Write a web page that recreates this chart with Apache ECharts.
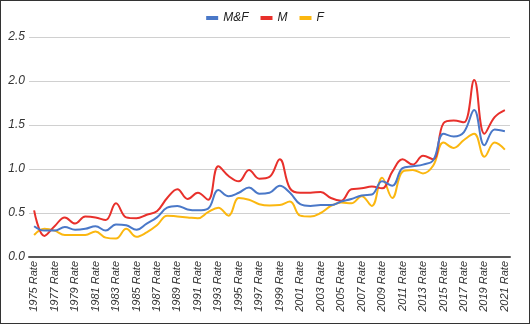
<!DOCTYPE html>
<html>
<head>
<meta charset="utf-8">
<script src="https://cdn.jsdelivr.net/npm/echarts@6/dist/echarts.min.js"></script>
<style>
html,body{margin:0;padding:0;background:#fff;}
#c{width:530px;height:324px;box-sizing:border-box;border:1px solid #333;}
</style>
</head>
<body>
<div id="c"></div>
<script>
var years = [];
for (var y = 1975; y <= 2021; y++) years.push(y + ' Rate');
var seriesNames = ['M&F', 'M', 'F'];
var mf = [0.35,0.30,0.30,0.34,0.31,0.32,0.35,0.30,0.37,0.36,0.31,0.38,0.45,0.56,0.58,0.54,0.53,0.55,0.76,0.69,0.73,0.79,0.72,
          0.73,0.81,0.73,0.60,0.58,0.59,0.59,0.63,0.66,0.70,0.71,0.86,0.81,1.01,1.03,1.05,1.10,1.40,1.37,1.42,1.67,1.27,1.45,1.43];
var m  = [0.53,0.24,0.35,0.45,0.38,0.46,0.45,0.42,0.61,0.45,0.44,0.48,0.52,0.67,0.77,0.66,0.73,0.65,1.03,0.92,0.86,0.99,0.89,
          0.91,1.11,0.78,0.73,0.73,0.74,0.67,0.64,0.77,0.78,0.80,0.78,0.97,1.11,1.05,1.15,1.11,1.52,1.55,1.53,2.01,1.40,1.59,1.67];
var f  = [0.25,0.32,0.30,0.25,0.25,0.25,0.29,0.22,0.21,0.32,0.23,0.28,0.36,0.47,0.46,0.45,0.44,0.51,0.56,0.47,0.67,0.65,0.60,
          0.585,0.59,0.63,0.47,0.46,0.50,0.58,0.62,0.61,0.69,0.58,0.90,0.67,0.97,0.99,0.95,1.04,1.30,1.24,1.33,1.40,1.14,1.30,1.22];
var colors = ['#4a78c8', '#e8302b', '#fbb710'];
var yTicks = [0, 0.5, 1.0, 1.5, 2.0, 2.5];

var chart = echarts.init(document.getElementById('c'), null, {renderer: 'canvas'});
var fontFam = 'Liberation Sans, Arial, sans-serif';
var dataArr = [mf, m, f];
chart.setOption({
  animation: false,
  color: colors,
  legend: {
    top: 6,
    left: 'center',
    icon: 'rect',
    itemWidth: 12,
    itemHeight: 4,
    itemGap: 12,
    textStyle: {fontFamily: fontFam, fontStyle: 'italic', fontSize: 12, color: '#222'},
    data: seriesNames
  },
  grid: {left: 28, right: 19, top: 36, bottom: 66, containLabel: false},
  xAxis: {
    type: 'category',
    data: years,
    boundaryGap: true,
    axisTick: {show: false},
    axisLine: {lineStyle: {color: '#555', width: 2}},
    axisLabel: {
      interval: 1, rotate: 90, margin: 4,
      fontFamily: fontFam, fontStyle: 'italic', fontSize: 11, color: '#333'
    },
    splitLine: {show: false}
  },
  yAxis: {
    type: 'value',
    min: yTicks[0], max: yTicks[yTicks.length - 1], interval: 0.5,
    axisLine: {show: false},
    axisTick: {show: false},
    axisLabel: {
      margin: 4, fontFamily: fontFam, fontStyle: 'italic', fontSize: 12, color: '#333',
      formatter: function (v) { return v.toFixed(1); }
    },
    splitLine: {lineStyle: {color: '#d0d0d0', width: 1}}
  },
  series: seriesNames.map(function (n, i) {
    return {
      name: n, type: 'line', data: dataArr[i], smooth: 0.4,
      showSymbol: false, symbol: 'none',
      lineStyle: {width: 2, color: colors[i]}, z: 3 - i
    };
  })
});
</script>
</body>
</html>
